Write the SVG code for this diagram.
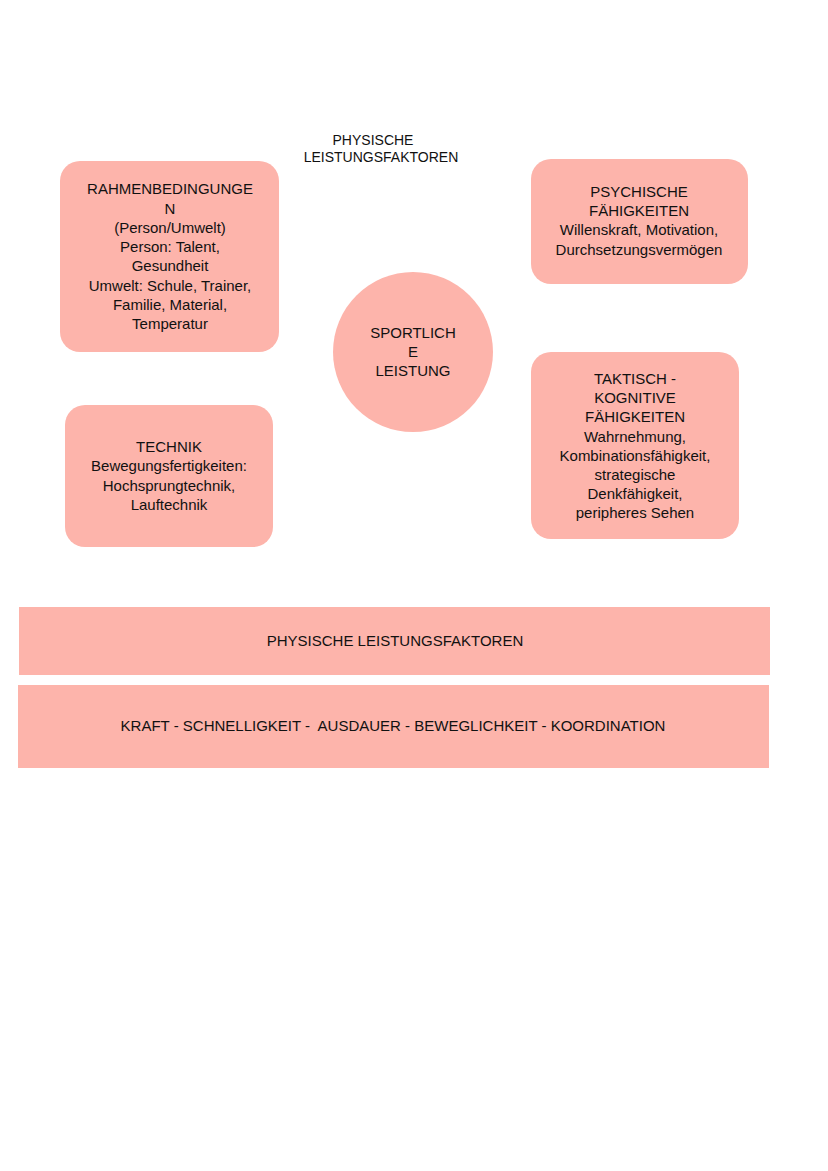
<svg xmlns="http://www.w3.org/2000/svg" width="828" height="1171" viewBox="0 0 828 1171">
<style>
.n{fill:#fdb4ab}
text{font-family:"Liberation Sans",Arial,sans-serif;font-size:15px;fill:#111;text-anchor:middle;dominant-baseline:middle}
.t{font-size:14px}
</style>
<rect width="828" height="1171" fill="#fff"/>
<g id="title"><text class="t" x="373" y="141">PHYSISCHE</text><text class="t" x="381" y="158">LEISTUNGSFAKTOREN</text></g>
<g id="rahmen"><rect class="n" x="60" y="161" width="219" height="191" rx="20"/>
<text x="170" y="190">RAHMENBEDINGUNGE</text><text x="170" y="210">N</text><text x="170" y="229">(Person/Umwelt)</text><text x="170" y="248">Person: Talent,</text><text x="170" y="267">Gesundheit</text><text x="170" y="287">Umwelt: Schule, Trainer,</text><text x="170" y="306">Familie, Material,</text><text x="170" y="325">Temperatur</text></g>
<g id="psych"><rect class="n" x="531" y="159" width="217" height="125" rx="20"/>
<text x="639" y="193">PSYCHISCHE</text><text x="639" y="212">FÄHIGKEITEN</text><text x="639" y="231">Willenskraft, Motivation,</text><text x="639" y="251">Durchsetzungsvermögen</text></g>
<g id="leistung"><circle class="n" cx="413" cy="352" r="80"/>
<text x="413" y="334">SPORTLICH</text><text x="413" y="353">E</text><text x="413" y="372">LEISTUNG</text></g>
<g id="taktisch"><rect class="n" x="531" y="352" width="208" height="187" rx="20"/>
<text x="635" y="380">TAKTISCH -</text><text x="635" y="399">KOGNITIVE</text><text x="635" y="418">FÄHIGKEITEN</text><text x="635" y="438">Wahrnehmung,</text><text x="635" y="457">Kombinationsfähigkeit,</text><text x="635" y="476">strategische</text><text x="635" y="495">Denkfähigkeit,</text><text x="635" y="514">peripheres Sehen</text></g>
<g id="technik"><rect class="n" x="65" y="405" width="208" height="142" rx="20"/>
<text x="169" y="448">TECHNIK</text><text x="169" y="467">Bewegungsfertigkeiten:</text><text x="169" y="487">Hochsprungtechnik,</text><text x="169" y="506">Lauftechnik</text></g>
<g id="bar1"><rect class="n" x="19" y="607" width="751" height="68"/><text x="395" y="642">PHYSISCHE LEISTUNGSFAKTOREN</text></g>
<g id="bar2"><rect class="n" x="18" y="685" width="751" height="83"/><text x="393" y="727" xml:space="preserve">KRAFT - SCHNELLIGKEIT -  AUSDAUER - BEWEGLICHKEIT - KOORDINATION</text></g>
<g id="connectors"></g>
</svg>
